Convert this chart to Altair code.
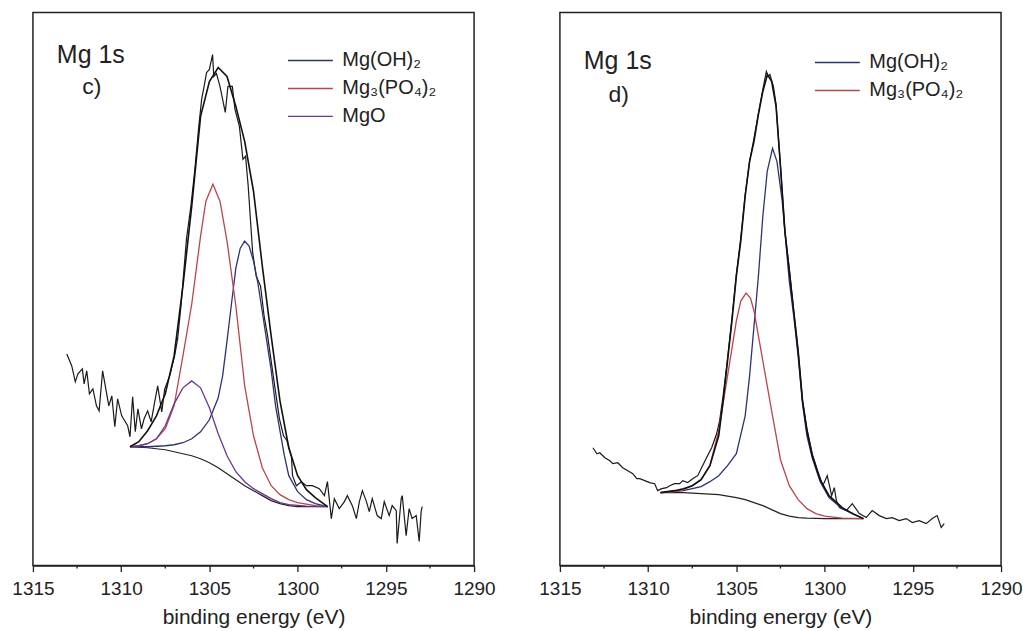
import altair as alt
import pandas as pd

FONT = "Liberation Sans"

# ---------------- panel c) ----------------
c_data_E = [1313.08, 1312.8, 1312.6, 1312.45, 1312.2, 1312.1, 1311.95, 1311.8, 1311.6, 1311.4,
            1311.25, 1311.05, 1310.87, 1310.7, 1310.53, 1310.36, 1310.2, 1309.97, 1309.8, 1309.63,
            1309.5, 1309.35, 1309.2, 1309.05, 1308.85, 1308.7, 1308.5, 1308.3, 1308.1, 1307.93,
            1307.7, 1307.53, 1307.25, 1306.97, 1306.8, 1306.6, 1306.3, 1306.05, 1305.84, 1305.6,
            1305.44, 1305.3, 1305.16, 1305.0, 1304.82, 1304.75, 1304.6, 1304.4, 1304.1, 1303.95,
            1303.7, 1303.55, 1303.3, 1303.1, 1302.95, 1302.8, 1302.55, 1302.35, 1302.1, 1301.9,
            1301.7, 1301.5, 1301.3, 1301.03, 1300.8, 1300.6, 1300.45, 1300.35, 1300.29, 1300.07,
            1299.79, 1299.5, 1299.16, 1298.77, 1298.48, 1298.31, 1298.09, 1297.92, 1297.64, 1297.35,
            1297.18, 1296.9, 1296.67, 1296.5, 1296.33, 1296.1, 1295.94, 1295.77, 1295.49, 1295.26,
            1295.09, 1294.81, 1294.64, 1294.41, 1294.36, 1294.13, 1294.07, 1293.85, 1293.68, 1293.51,
            1293.28, 1293.11, 1293.0, 1292.94]
c_data_I = [212, 200, 184, 192, 197, 182, 195, 172, 177, 160,
            155, 195, 177, 160, 170, 139, 167, 150, 145, 140,
            129, 169, 134, 157, 137, 147, 155, 144, 164, 180,
            154, 177, 190, 210, 227, 262, 327, 360, 394, 440,
            467, 480, 494, 497, 512, 490, 493, 480, 454, 480,
            480, 457, 440, 407, 410, 380, 314, 290, 280, 250,
            230, 205, 180, 147, 130, 125, 115, 109, 90, 80,
            84, 80, 80, 77, 70, 84, 47, 67, 57, 64,
            70, 60, 47, 64, 75, 64, 54, 67, 50, 47,
            64, 50, 60, 55, 22, 67, 70, 30, 57, 47,
            50, 24, 54, 59]

c_bg_E = [1309.5, 1308.5, 1307.5, 1307, 1306.5, 1306, 1305.5, 1305, 1304.5, 1304,
          1303.5, 1303, 1302.5, 1302, 1301.5, 1301, 1300.5, 1300, 1299, 1298.3]
c_bg_I = [119, 118, 116, 114, 112, 110, 107, 103, 98, 92,
          86, 80, 75, 70, 65, 62, 60, 59, 59, 59]

c_oh_E = [1309.5, 1308.5, 1307.5, 1307, 1306.5, 1306, 1305.5, 1305, 1304.5, 1304.25,
          1304, 1303.75, 1303.5, 1303.25, 1303.0, 1302.75, 1302.5, 1302.25, 1302, 1301.75,
          1301.5, 1301.25, 1301, 1300.75, 1300.5, 1300, 1299.5, 1299, 1298.3]
c_oh_I = [119, 119, 120, 121, 123, 127, 134, 146, 168, 190,
          225, 262, 298, 318, 325, 320, 305, 283, 254, 225,
          196, 160, 135, 110, 90, 74, 66, 62, 59]

c_po_E = [1309.5, 1309, 1308.5, 1308, 1307.5, 1307, 1306.5, 1306, 1305.5, 1305.2,
          1304.8, 1304.4, 1304, 1303.5, 1303, 1302.5, 1302, 1301.5, 1301, 1300.5,
          1300, 1299, 1298.3]
c_po_I = [119, 120, 122, 127, 137, 160, 210, 262, 330, 365,
          382, 365, 325, 260, 180, 130, 98, 80, 71, 66,
          63, 60, 59]

c_mgo_E = [1309.5, 1309, 1308.5, 1308, 1307.5, 1307, 1306.5, 1306, 1305.5, 1305,
           1304.5, 1304, 1303.5, 1303, 1302.5, 1302, 1301.5, 1301, 1300.5, 1299.5, 1298.3]
c_mgo_I = [119, 120, 122, 127, 140, 162, 178, 185, 178, 158,
           132, 110, 94, 84, 77, 72, 67, 63, 61, 59.5, 59]

c_env_E = [1309.5, 1309, 1308.5, 1308, 1307.5, 1307, 1306.5, 1306, 1305.5, 1305,
           1304.5, 1304, 1303.5, 1303, 1302.5, 1302, 1301.5, 1301, 1300.5, 1300,
           1299.5, 1299, 1298.3]
c_env_I = [119, 124, 135, 150, 172, 210, 280, 360, 450, 485,
           499, 490, 460, 425, 375, 300, 230, 165, 118, 90,
           76, 68, 59]

# ---------------- panel d) ----------------
d_data_E = [1313.13, 1312.9, 1312.74, 1312.45, 1312.17, 1312.0, 1311.72, 1311.44, 1311.15, 1310.87,
            1310.64, 1310.48, 1310.19, 1309.91, 1309.63, 1309.46, 1309.23, 1308.95, 1308.78, 1308.5,
            1308.21, 1308.04, 1307.76, 1307.48, 1307.19, 1306.97, 1306.69, 1306.4, 1306.12, 1305.95,
            1305.75, 1305.5, 1305.25, 1305.0, 1304.75, 1304.5, 1304.25, 1304.0, 1303.75, 1303.5,
            1303.3, 1303.2, 1303.1, 1302.9, 1302.75, 1302.5, 1302.25, 1302.0, 1301.75, 1301.5,
            1301.25, 1301.0, 1300.7, 1300.4, 1300.1, 1299.85, 1299.6, 1299.45, 1299.33, 1299.16,
            1298.77, 1298.43, 1298.03, 1297.64, 1297.3, 1296.9, 1296.5, 1296.17, 1295.77, 1295.37,
            1295.03, 1294.64, 1294.24, 1293.9, 1293.62, 1293.39, 1293.22]
d_data_I = [118, 112, 113, 108, 105, 102, 103, 98, 95, 92,
            87, 87, 85, 83, 82, 75, 77, 78, 80, 82,
            82, 85, 83, 87, 90, 98, 108, 118, 132, 145,
            170, 207, 248, 292, 328, 372, 405, 428, 453, 477,
            495, 490, 492, 480, 462, 400, 335, 297, 255, 215,
            165, 137, 112, 95, 80, 90, 70, 78, 65, 58,
            55, 62, 52, 48, 55, 50, 47, 48, 45, 47,
            43, 45, 42, 47, 50, 38, 42]

d_bg_E = [1309.3, 1308, 1307, 1306.5, 1306, 1305.5, 1305, 1304.5, 1304, 1303.5,
          1303, 1302.5, 1302, 1301.5, 1301, 1300, 1297.8]
d_bg_I = [73, 73, 72, 71.5, 71, 69.5, 68, 66, 63, 60,
          56, 52, 49.5, 48, 47.5, 47, 47]

d_oh_E = [1309.3, 1308.5, 1308, 1307, 1306.5, 1306, 1305.5, 1305, 1304.5, 1304.25,
          1304, 1303.75, 1303.5, 1303.25, 1302.95, 1302.7, 1302.4, 1302.2, 1302, 1301.75,
          1301.5, 1301.25, 1301, 1300.7, 1300.25, 1299.75, 1299, 1298.43, 1297.8]
d_oh_I = [73, 74, 75, 79, 84, 90, 100, 112, 150, 190,
          240, 290, 350, 395, 418, 405, 365, 325, 285, 250,
          210, 162, 130, 108, 84, 68, 57, 52, 47]

d_po_E = [1309.3, 1308.5, 1308, 1307.5, 1307, 1306.5, 1306, 1305.5, 1305, 1304.75,
          1304.45, 1304.2, 1304, 1303.5, 1303, 1302.5, 1302, 1301.5, 1301, 1300.5,
          1300, 1299, 1297.8]
d_po_I = [73, 74, 76, 80, 86, 100, 135, 190, 245, 265,
          273, 268, 255, 205, 155, 106, 80, 66, 57, 52,
          49.5, 47.5, 47]

d_env_E = [1309.3, 1308.5, 1308, 1307.5, 1307, 1306.5, 1306, 1305.75, 1305.5, 1305.25,
           1305, 1304.75, 1304.5, 1304.25, 1304, 1303.75, 1303.5, 1303.24, 1303, 1302.75,
           1302.5, 1302.25, 1302, 1301.75, 1301.5, 1301.25, 1301, 1300.7, 1300.25, 1299.75,
           1299, 1298.4, 1297.8]
d_env_I = [73, 75, 77, 80, 86, 100, 130, 165, 205, 245,
           290, 325, 370, 405, 425, 452, 475, 492, 485, 460,
           400, 335, 295, 255, 215, 165, 135, 110, 86, 70,
           58, 52, 47]

major_ticks = [1315, 1310, 1305, 1300, 1295, 1290]
minor_ticks = [1312.5, 1307.5, 1302.5, 1297.5, 1292.5]

OH = "Mg(OH)\u2082"
PO = "Mg\u2083(PO\u2084)\u2082"
MGO = "MgO"
COMP_COLORS = {OH: "#2d3275", PO: "#b5474f", MGO: "#6a3590"}

W, H = 442, 554


def frame(E, I, name):
    return pd.DataFrame({"E": E, "I": I, "series": name})


def panel(data, bg, env, comps, label, title_y, label_y, legend_y):
    xsc = alt.Scale(domain=[1315, 1290], nice=False, zero=False)
    ysc = alt.Scale(domain=[0, 554], nice=False, zero=False)
    xax = alt.Axis(values=major_ticks, format="d", title="binding energy (eV)",
                   labelFont=FONT, labelFontSize=19, labelColor="#222", labelPadding=8,
                   titleFont=FONT, titleFontSize=21, titleFontWeight="normal", titleColor="#222",
                   titlePadding=8, tickSize=6, tickColor="#222", tickWidth=1.3,
                   domainColor="#222", domainWidth=1.5, grid=False, labelFlush=False)
    x = alt.X("E:Q", scale=xsc, axis=xax)
    y = alt.Y("I:Q", scale=ysc, axis=None)

    data_layer = alt.Chart(data).mark_line(color="#1a1a1a", strokeWidth=1.2).encode(x=x, y=y)
    bg_layer = alt.Chart(bg).mark_line(color="#222", strokeWidth=1.2).encode(x=x, y=y)
    env_layer = alt.Chart(env).mark_line(color="#111", strokeWidth=1.6).encode(x=x, y=y)

    comp_df = pd.concat(comps, ignore_index=True)
    names = list(dict.fromkeys(comp_df["series"]))
    comp_layer = alt.Chart(comp_df).mark_line(strokeWidth=1.3).encode(
        x=x, y=y,
        color=alt.Color("series:N",
                        scale=alt.Scale(domain=names, range=[COMP_COLORS[n] for n in names]),
                        sort=names,
                        legend=alt.Legend(orient="none", legendX=266, legendY=legend_y, title=None,
                                          symbolType="M-2,0H2", symbolSize=506,
                                          symbolStrokeWidth=1.4, labelFont=FONT,
                                          labelFontSize=20, labelColor="#222", labelOffset=20,
                                          rowPadding=6, padding=0)),
        detail="series:N",
    )

    minor = alt.Chart(pd.DataFrame({"E": minor_ticks})).mark_rule(
        color="#222", strokeWidth=1.3).encode(
        x=alt.X("E:Q", scale=xsc), y=alt.value(H), y2=alt.value(H + 3))

    txt = pd.DataFrame({"t": ["Mg  1s", label], "row": [0, 1]})
    t1 = alt.Chart(txt[txt.row == 0]).mark_text(
        font=FONT, fontSize=25, color="#222", align="center", baseline="middle").encode(
        text="t:N", x=alt.value(58), y=alt.value(title_y))
    t2 = alt.Chart(txt[txt.row == 1]).mark_text(
        font=FONT, fontSize=23, color="#222", align="center", baseline="middle").encode(
        text="t:N", x=alt.value(59), y=alt.value(label_y))

    return alt.layer(data_layer, bg_layer, comp_layer, env_layer, minor, t1, t2).properties(
        width=W, height=H)


left = panel(
    frame(c_data_E, c_data_I, "data"),
    frame(c_bg_E, c_bg_I, "bg"),
    frame(c_env_E, c_env_I, "env"),
    [frame(c_oh_E, c_oh_I, OH), frame(c_po_E, c_po_I, PO), frame(c_mgo_E, c_mgo_I, MGO)],
    "c)", 43, 75, 36)

right = panel(
    frame(d_data_E, d_data_I, "data"),
    frame(d_bg_E, d_bg_I, "bg"),
    frame(d_env_E, d_env_I, "env"),
    [frame(d_oh_E, d_oh_I, OH), frame(d_po_E, d_po_I, PO)],
    "d)", 49, 83, 38)

chart = alt.hconcat(left, right, spacing=86, bounds="flush").resolve_scale(
    color="independent", x="independent", y="independent").properties(
    padding={"left": 11, "top": 11, "right": 0, "bottom": 0},
    background="white",
).configure_view(stroke="#222", strokeWidth=1.5)

chart.save("out.html", embed_options={"renderer": "svg", "actions": False})
